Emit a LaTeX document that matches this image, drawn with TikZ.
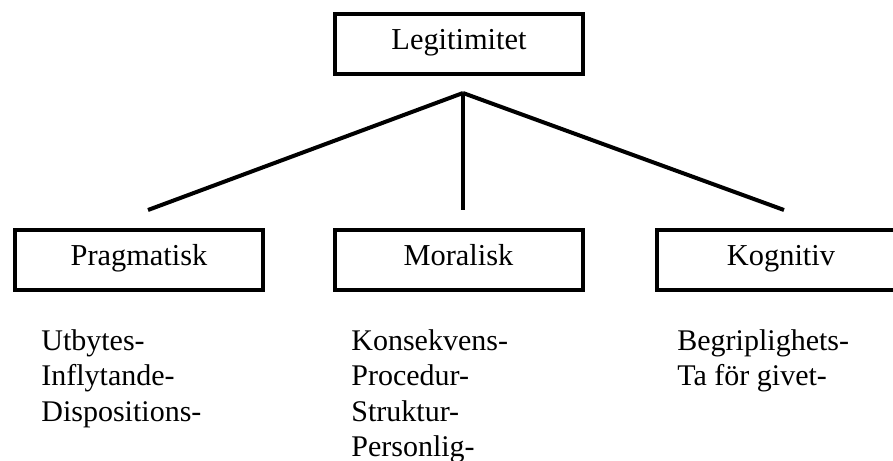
\documentclass[tikz,border=0pt]{standalone}
\usepackage{fontspec}
\setmainfont{Liberation Serif}
\usetikzlibrary{positioning}

\begin{document}
\begin{tikzpicture}[x=0.5pt,y=-0.5pt,
    box/.style={draw,line width=2pt,minimum width=124pt,minimum height=30pt,inner sep=0pt,
        text height=0.75em,text depth=0.2em,font=\fontsize{15.2}{18}\selectfont},
    items/.style={anchor=north west,align=left,inner sep=0pt,font=\fontsize{15}{17.75}\selectfont},
    branch/.style={line width=2pt}]
    \useasboundingbox (0,0) rectangle (893,460);

    % Top node
    \node[box] (legit) at (459,44.5) {Legitimitet};

    % Sub nodes
    \node[box] (prag) at (139,260) {Pragmatisk};
    \node[box] (moral) at (458.5,260) {Moralisk};
    \node[box] (kogn) at (781,260) {Kognitiv};

    % Branches
    \coordinate (apex) at (463,93);
    \foreach \n/\x in {prag/148,moral/463,kogn/784} {
        \coordinate (\n-end) at (\x,210);
        \draw[branch] (apex) -- (\n-end);
    }

    % Lists
    \node[items] (prag-list) at (41,329) {Utbytes-\\Inflytande-\\Dispositions-};
    \node[items] (moral-list) at (351,329) {Konsekvens-\\Procedur-\\Struktur-\\Personlig-};
    \node[items] (kogn-list) at (677,329) {Begriplighets-\\Ta för givet-};
\end{tikzpicture}
\end{document}
